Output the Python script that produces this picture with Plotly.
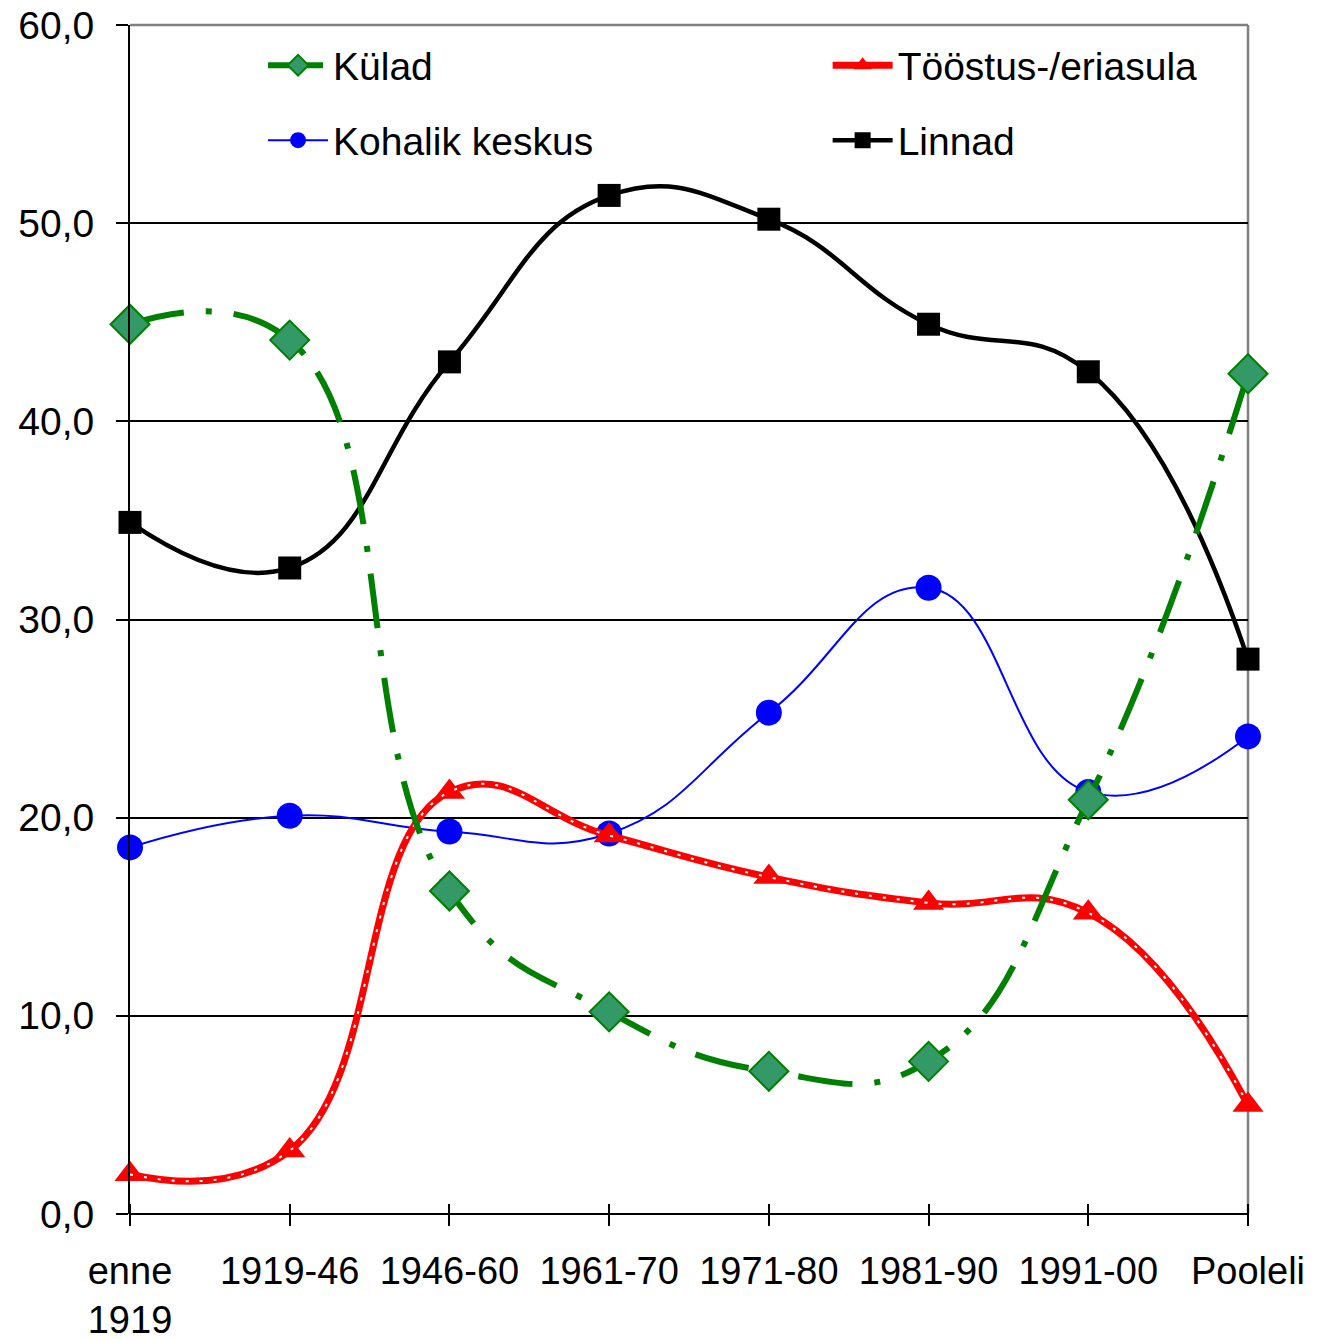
import plotly.graph_objects as go

# Periods (x categories) and shares per settlement type, %
periods = ["enne<br>1919", "1919-46", "1946-60", "1961-70", "1971-80", "1981-90", "1991-00", "Pooleli"]
kulad = [44.9, 44.1, 16.3, 10.2, 7.2, 7.7, 20.9, 42.4]
toostus = [2.0, 3.2, 21.3, 19.1, 17.0, 15.7, 15.2, 5.5]
kohalik = [18.5, 20.1, 19.3, 19.2, 25.3, 31.6, 21.3, 24.1]
linnad = [34.9, 32.6, 43.0, 51.4, 50.2, 44.9, 42.5, 28.0]

y_ticks = [0, 10, 20, 30, 40, 50, 60]

FONT = "Liberation Sans, Arial, sans-serif"
SMOOTH = 1.3
PLOT_H = 1339 - 25 - 125  # plot-area height in px
TICK_HALF = 11            # x ticks cross the axis line, this much on each side

fig = go.Figure()

fig.add_trace(go.Scatter(
    x=periods, y=linnad, name="Linnad", legend="legend4", cliponaxis=False,
    mode="lines+markers", line=dict(color="black", width=4.5, shape="spline", smoothing=SMOOTH),
    marker=dict(symbol="square", size=23, color="black"),
))
fig.add_trace(go.Scatter(
    x=periods, y=kohalik, name="Kohalik keskus", legend="legend3", cliponaxis=False,
    mode="lines+markers", line=dict(color="#0000FF", width=2, shape="spline", smoothing=SMOOTH),
    marker=dict(symbol="circle", size=26, color="#0000FF"),
))
fig.add_trace(go.Scatter(
    x=periods, y=toostus, name="Tööstus-/eriasula", legend="legend2", cliponaxis=False,
    mode="lines+markers", line=dict(color="#FF0000", width=7, shape="spline", smoothing=SMOOTH),
    marker=dict(symbol="triangle-up", size=27, color="#FF0000"),
))
# white dotted core of the industrial-settlement line
fig.add_trace(go.Scatter(
    x=periods, y=toostus, showlegend=False, hoverinfo="skip",
    mode="lines", line=dict(color="white", width=2, dash="3px,11px", shape="spline", smoothing=SMOOTH),
))
fig.add_trace(go.Scatter(
    x=periods, y=kulad, name="Külad", legend="legend", cliponaxis=False,
    mode="lines+markers",
    line=dict(color="#008000", width=6, dash="55px,22px,6px,22px", shape="spline", smoothing=SMOOTH),
    marker=dict(symbol="diamond", size=30, color="#339966", line=dict(color="#008000", width=2)),
))

legend_common = dict(
    font=dict(family=FONT, size=39, color="black"),
    bgcolor="rgba(0,0,0,0)", xanchor="left", yanchor="middle",
    itemwidth=60,
)
fig.update_layout(
    legend=dict(x=0.119, y=0.966, **legend_common),
    legend2=dict(x=0.624, y=0.966, **legend_common),
    legend3=dict(x=0.119, y=0.903, **legend_common),
    legend4=dict(x=0.624, y=0.903, **legend_common),
)

fig.update_layout(
    width=1319, height=1339,
    margin=dict(l=130, r=71, t=25, b=125, autoexpand=False),
    paper_bgcolor="white", plot_bgcolor="white",
    font=dict(family=FONT, size=39, color="black"),
    # the category axis sits slightly above the baseline so its ticks cross the
    # baseline (drawn as the y zero line)
    xaxis=dict(
        type="category", range=[0, 7], automargin=False,
        anchor="free", position=TICK_HALF / PLOT_H,
        showgrid=False, showline=False, zeroline=False,
        ticks="outside", ticklen=2 * TICK_HALF, tickwidth=2, tickcolor="black",
        tickfont=dict(family=FONT, size=38),
        ticklabelstandoff=12,
    ),
    yaxis=dict(
        range=[0, 60], tickvals=y_ticks, tickformat=".1f", automargin=False,
        showgrid=True, gridcolor="black", gridwidth=1.5,
        showline=True, linecolor="black", linewidth=2,
        zeroline=True, zerolinecolor="black", zerolinewidth=2,
        ticks="outside", ticklen=12, tickwidth=2, tickcolor="black",
        tickfont=dict(family=FONT, size=39),
        ticklabelstandoff=14,
    ),
    separators=",.",
    showlegend=True,
    shapes=[
        dict(type="line", xref="paper", yref="paper", x0=0, x1=1, y0=1, y1=1,
             line=dict(color="#808080", width=2.5), layer="above"),
        dict(type="line", xref="paper", yref="paper", x0=1, x1=1, y0=0, y1=1,
             line=dict(color="#808080", width=2.5), layer="below"),
    ],
)

fig.write_html("out.html")
